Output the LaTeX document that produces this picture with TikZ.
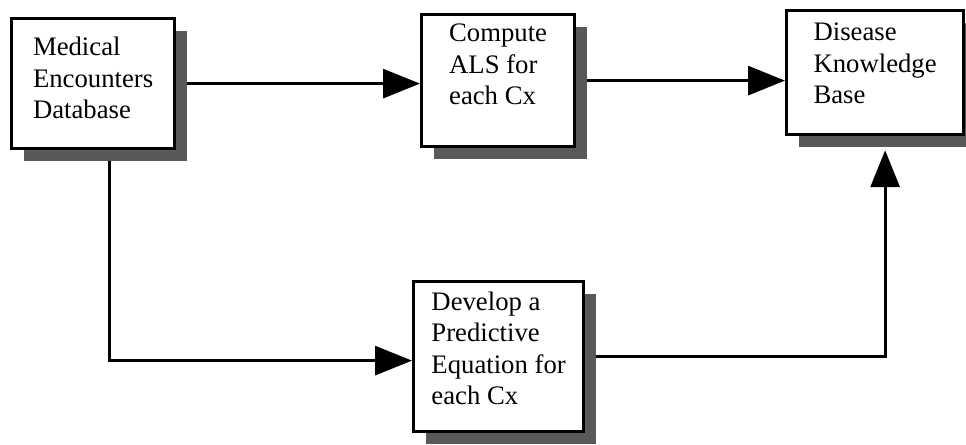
\documentclass[tikz,border=0pt]{standalone}
\usepackage{fontspec}
\setmainfont{Liberation Serif}
\usetikzlibrary{arrows.meta,shadows,backgrounds}

\begin{document}
\begin{tikzpicture}[
  stage/.style={
    draw,
    line width=2.3pt,
    fill=white,
    anchor=north west,
    inner sep=0pt,
    align=left,
    font=\fontsize{19}{22.4}\selectfont,
    drop shadow={shadow xshift=0.3cm,shadow yshift=-0.3cm,fill=black!65,opacity=1}
  },
  arrow/.style={-{Triangle[length=0.92cm,width=0.72cm]},line width=2.3pt}
]
  \useasboundingbox (0,0) rectangle (24.15,-11.125);

  \node[stage,minimum width=4.075cm,text height=2.5cm,text depth=0.75cm]
    (med) at (0.25,-0.425) {Medical\\Encounters\\Database};
  \node[stage,minimum width=3.825cm,text height=2.25cm,text depth=1.05cm]
    (als) at (10.5,-0.325) {Compute\\ALS for\\each Cx};
  \node[stage,minimum width=4.425cm,text height=2.325cm,text depth=0.775cm]
    (kb) at (19.625,-0.225) {Disease\\Knowledge\\Base};
  \node[stage,minimum width=4.25cm,text height=3.075cm,text depth=0.675cm]
    (dev) at (10.3,-7.0) {Develop a\\Predictive\\Equation for\\each Cx};

  \begin{scope}[on background layer]
    \draw[arrow] (med.east) -- (med.east -| als.west);
    \draw[arrow] (als.east) -- (als.east -| kb.west);
    \draw[arrow] ([xshift=0.4cm]med.south) |- ([yshift=-0.1cm]dev.west);
    \draw[arrow,shorten >=0.35cm] (dev.east) -| ([xshift=0.25cm]kb.south);
  \end{scope}
\end{tikzpicture}
\end{document}
